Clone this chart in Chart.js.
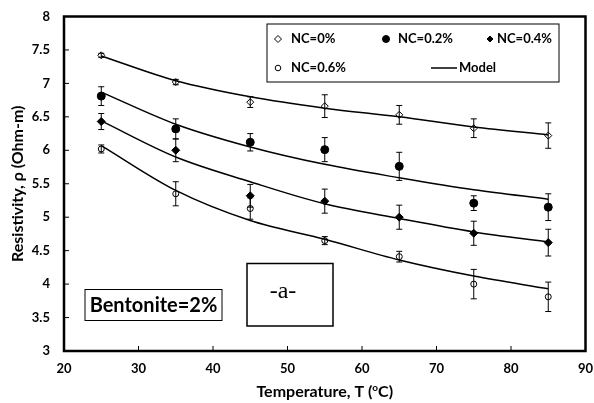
<!DOCTYPE html>
<html lang="en">
<head>
  <meta charset="UTF-8">
  <title>Resistivity vs Temperature</title>
  <style>
    html, body { margin: 0; padding: 0; background: #fff; }
    #wrap { position: relative; width: 594px; height: 403px; }
  </style>
</head>
<body>
  <div id="wrap">
    <canvas id="grafico" width="594" height="403"></canvas>
  </div>
  <script src="https://cdn.jsdelivr.net/npm/chart.js"></script>
  <script>
    // dados
    const temps = [25, 35, 45, 55, 65, 75, 85];

    const nc0 = [7.42, 7.02, 6.72, 6.66, 6.53, 6.33, 6.22];
    const nc0Err = [0.03, 0.04, 0.08, 0.17, 0.14, 0.14, 0.19];
    const nc02 = [6.81, 6.32, 6.12, 6.01, 5.76, 5.21, 5.15];
    const nc02Err = [0.14, 0.15, 0.13, 0.18, 0.21, 0.11, 0.2];
    const nc04 = [6.43, 6.0, 5.32, 5.24, 5.0, 4.76, 4.62];
    const nc04Err = [0.12, 0.17, 0.17, 0.18, 0.18, 0.18, 0.2];
    const nc06 = [6.02, 5.35, 5.13, 4.65, 4.41, 4.0, 3.81];
    const nc06Err = [0.06, 0.18, 0.16, 0.06, 0.08, 0.22, 0.22];

    const model0 = [7.41, 7.04, 6.80, 6.63, 6.50, 6.35, 6.23];
    const model02 = [6.87, 6.39, 6.05, 5.79, 5.59, 5.41, 5.27];
    const model04 = [6.44, 5.90, 5.53, 5.20, 4.98, 4.78, 4.63];
    const model06 = [6.07, 5.40, 4.95, 4.67, 4.36, 4.12, 3.93];

    const xTicks = [20, 30, 40, 50, 60, 70, 80, 90];
    const yTicks = [3, 3.5, 4, 4.5, 5, 5.5, 6, 6.5, 7, 7.5, 8];

    const fonte = 'Lato, "Liberation Sans", sans-serif';

    function pontos(valores) {
      return temps.map((t, i) => ({ x: t, y: valores[i] }));
    }

    function serieModelo(valores) {
      return {
        label: 'Model',
        data: pontos(valores),
        borderColor: '#000',
        borderWidth: 1.5,
        pointRadius: 0,
        showLine: true,
        fill: false,
        cubicInterpolationMode: 'monotone'
      };
    }

    function serieDados(label, valores, erros, estilo, raio, cheio) {
      return {
        label: label,
        data: pontos(valores),
        erros: erros,
        showLine: false,
        pointStyle: estilo,
        pointRadius: raio,
        pointHoverRadius: raio,
        pointBorderWidth: 1,
        pointBorderColor: '#000',
        pointBackgroundColor: cheio ? '#000' : 'rgba(0,0,0,0)',
        borderColor: '#000'
      };
    }

    // barras de erro
    const barrasErro = {
      id: 'barrasErro',
      afterDatasetsDraw(chart) {
        const ctx = chart.ctx;
        const xs = chart.scales.x, ys = chart.scales.y;
        ctx.save();
        ctx.strokeStyle = '#000';
        ctx.lineWidth = 1;
        chart.data.datasets.forEach(ds => {
          if (!ds.erros) return;
          ds.data.forEach((p, i) => {
            const x = xs.getPixelForValue(p.x);
            const y1 = ys.getPixelForValue(p.y + ds.erros[i]);
            const y2 = ys.getPixelForValue(p.y - ds.erros[i]);
            ctx.beginPath();
            ctx.moveTo(x, y1); ctx.lineTo(x, y2);
            ctx.moveTo(x - 3, y1); ctx.lineTo(x + 3, y1);
            ctx.moveTo(x - 3, y2); ctx.lineTo(x + 3, y2);
            ctx.stroke();
          });
        });
        ctx.restore();
      }
    };

    // moldura, marcas internas, titulos, legenda e caixas
    const moldura = {
      id: 'moldura',
      afterDraw(chart) {
        const ctx = chart.ctx;
        const a = chart.chartArea;
        const xs = chart.scales.x, ys = chart.scales.y;
        ctx.save();
        ctx.strokeStyle = '#000';

        // marcas
        ctx.lineWidth = 1;
        ctx.beginPath();
        xTicks.forEach(v => {
          const x = xs.getPixelForValue(v);
          ctx.moveTo(x, a.bottom); ctx.lineTo(x, a.bottom - 5);
        });
        yTicks.forEach(v => {
          const y = ys.getPixelForValue(v);
          ctx.moveTo(a.left, y); ctx.lineTo(a.left + 5, y);
        });
        ctx.stroke();

        ctx.lineWidth = 2.5;
        ctx.strokeRect(a.left, a.top, a.right - a.left, a.bottom - a.top);

        // titulo x com sobrescrito
        ctx.fillStyle = '#000';
        ctx.textBaseline = 'middle';
        ctx.textAlign = 'left';
        const f1 = 'bold 16px ' + fonte, f2 = 'bold 10px ' + fonte;
        const p1 = 'Temperature, T (', p2 = 'o', p3 = 'C)';
        ctx.font = f1;
        const w1 = ctx.measureText(p1).width, w3 = ctx.measureText(p3).width;
        ctx.font = f2;
        const w2 = ctx.measureText(p2).width;
        let x0 = (a.left + a.right) / 2 - (w1 + w2 + w3) / 2;
        const yT = 392;
        ctx.font = f1; ctx.fillText(p1, x0, yT);
        ctx.font = f2; ctx.fillText(p2, x0 + w1, yT - 4);
        ctx.font = f1; ctx.fillText(p3, x0 + w1 + w2, yT);

        // titulo y
        ctx.save();
        ctx.translate(18, (a.top + a.bottom) / 2);
        ctx.rotate(-Math.PI / 2);
        ctx.textAlign = 'center';
        ctx.font = f1;
        ctx.fillText('Resistivity, \u03c1 (Ohm-m)', 0, 0);
        ctx.restore();

        // legenda
        ctx.lineWidth = 1;
        ctx.strokeRect(267, 24, 292, 58);
        ctx.font = 'bold 13px ' + fonte;
        ctx.textAlign = 'left';
        const itens = [
          { txt: 'NC=0%', mx: 278, tx: 291, y: 39, est: 'rectRot', r: 3.5, cheio: false },
          { txt: 'NC=0.2%', mx: 386, tx: 398, y: 39, est: 'circle', r: 3.5, cheio: true },
          { txt: 'NC=0.4%', mx: 490, tx: 497, y: 39, est: 'rectRot', r: 3, cheio: true },
          { txt: 'NC=0.6%', mx: 278, tx: 291, y: 68, est: 'circle', r: 2.8, cheio: false }
        ];
        itens.forEach(it => {
          ctx.fillStyle = it.cheio ? '#000' : 'rgba(0,0,0,0)';
          ctx.strokeStyle = '#000';
          Chart.helpers.drawPoint(ctx, { pointStyle: it.est, radius: it.r, borderWidth: 1 }, it.mx, it.y);
          ctx.fillStyle = '#000';
          ctx.fillText(it.txt, it.tx, it.y);
        });
        ctx.lineWidth = 1.5;
        ctx.beginPath();
        ctx.moveTo(431, 68); ctx.lineTo(457, 68);
        ctx.stroke();
        ctx.fillText('Model', 459, 68);

        // caixa Bentonite
        ctx.lineWidth = 1;
        ctx.strokeRect(85, 289.5, 137, 31);
        ctx.font = 'bold 20px ' + fonte;
        ctx.textAlign = 'center';
        ctx.fillText('Bentonite=2%', 153.5, 305.5);

        // caixa -a-
        ctx.lineWidth = 1.5;
        ctx.strokeRect(247, 263.5, 86, 62.5);
        ctx.font = '24px "Liberation Serif", serif';
        ctx.fillText('-a-', 283, 292);

        ctx.restore();
      }
    };

    new Chart(document.getElementById('grafico'), {
      type: 'scatter',
      data: {
        datasets: [
          serieModelo(model0),
          serieModelo(model02),
          serieModelo(model04),
          serieModelo(model06),
          serieDados('NC=0%', nc0, nc0Err, 'rectRot', 3.5, false),
          serieDados('NC=0.2%', nc02, nc02Err, 'circle', 4, true),
          serieDados('NC=0.4%', nc04, nc04Err, 'rectRot', 4, true),
          serieDados('NC=0.6%', nc06, nc06Err, 'circle', 3, false)
        ]
      },
      options: {
        responsive: false,
        animation: false,
        events: [],
        layout: { padding: { top: 16.5, right: 8.5, left: 0, bottom: 0 } },
        plugins: {
          legend: { display: false },
          tooltip: { enabled: false }
        },
        scales: {
          x: {
            type: 'linear',
            min: 20, max: 90,
            afterFit(scale) {
              scale.height = 52;
              scale.paddingLeft = 0; scale.paddingRight = 0;
            },
            afterBuildTicks(scale) { scale.ticks = xTicks.map(v => ({ value: v })); },
            grid: { display: false, drawTicks: false },
            border: { display: false },
            ticks: { color: '#000', padding: 10, maxRotation: 0, font: { family: fonte, weight: 'bold', size: 13 } }
          },
          y: {
            min: 3, max: 8,
            afterFit(scale) {
              scale.width = 64;
              scale.paddingTop = 0; scale.paddingBottom = 0;
            },
            afterBuildTicks(scale) { scale.ticks = yTicks.map(v => ({ value: v })); },
            grid: { display: false, drawTicks: false },
            border: { display: false },
            ticks: {
              color: '#000', padding: 14,
              font: { family: fonte, weight: 'bold', size: 13 },
              callback: v => String(v)
            }
          }
        }
      },
      plugins: [barrasErro, moldura]
    });
  </script>
</body>
</html>
